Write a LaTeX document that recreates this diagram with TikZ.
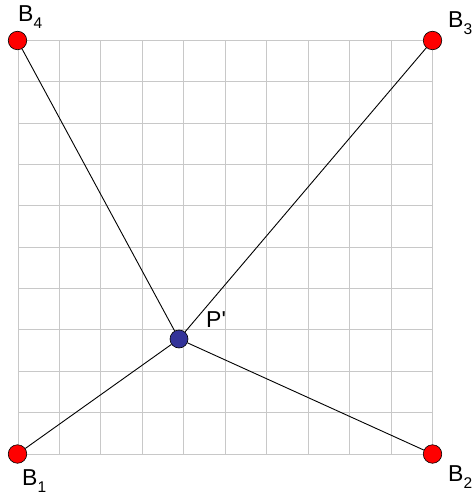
\documentclass[tikz,border=0pt]{standalone}
\usepackage{fontspec}
\newfontfamily\lblfont{Liberation Sans}
\newcommand\lblsub[1]{\raisebox{-7pt}{\fontsize{15.5}{16}\selectfont #1}}
\newcommand\lbltext[1]{\lblfont\fontsize{23}{26}\selectfont #1}
\definecolor{gridgray}{RGB}{200,200,200}
\definecolor{ptblue}{RGB}{51,51,153}
\tikzset{
  gridline/.style={draw=gridgray, line width=1pt},
  ray/.style={draw=black, line width=0.9pt},
  redpt/.style={circle, fill=red, draw=black, line width=0.6pt, minimum size=18.5pt, inner sep=0pt},
  bluept/.style={circle, fill=ptblue, draw=black, line width=0.6pt, minimum size=18pt, inner sep=0pt},
  lbl/.style={anchor=base west, inner sep=0pt}
}
\begin{document}
\begin{tikzpicture}[x=1pt,y=-1pt]
\useasboundingbox (0,0) rectangle (474,497);
\fill[white] (0,0) rectangle (474,497);
\foreach \i in {0,...,10}{
  \draw[gridline] ({18+\i*41.45},40.5) -- ({18+\i*41.45},454);
  \draw[gridline] (18,{454-\i*41.35}) -- (432.5,{454-\i*41.35});
}
\node[bluept] (P) at (179,339) {};
\node[redpt] (B1) at (17.5,454) {};
\node[redpt] (B2) at (432.5,454) {};
\node[redpt] (B3) at (432.5,40.5) {};
\node[redpt] (B4) at (17.5,40.5) {};
\draw[ray] (B1) -- (P);
\draw[ray] (B2) -- (P);
\draw[ray] (B3) -- (P);
\draw[ray] (B4) -- (P);
\node[lbl] (L1) at (22,485) {\lbltext{B\lblsub{1}}};
\node[lbl] (L2) at (448,481.5) {\lbltext{B\lblsub{2}}};
\node[lbl] (L3) at (448,28) {\lbltext{B\lblsub{3}}};
\node[lbl] (L4) at (18,22) {\lbltext{B\lblsub{4}}};
\node[lbl] (LP) at (206,327.5) {\lbltext{P'}};
\end{tikzpicture}
\end{document}
